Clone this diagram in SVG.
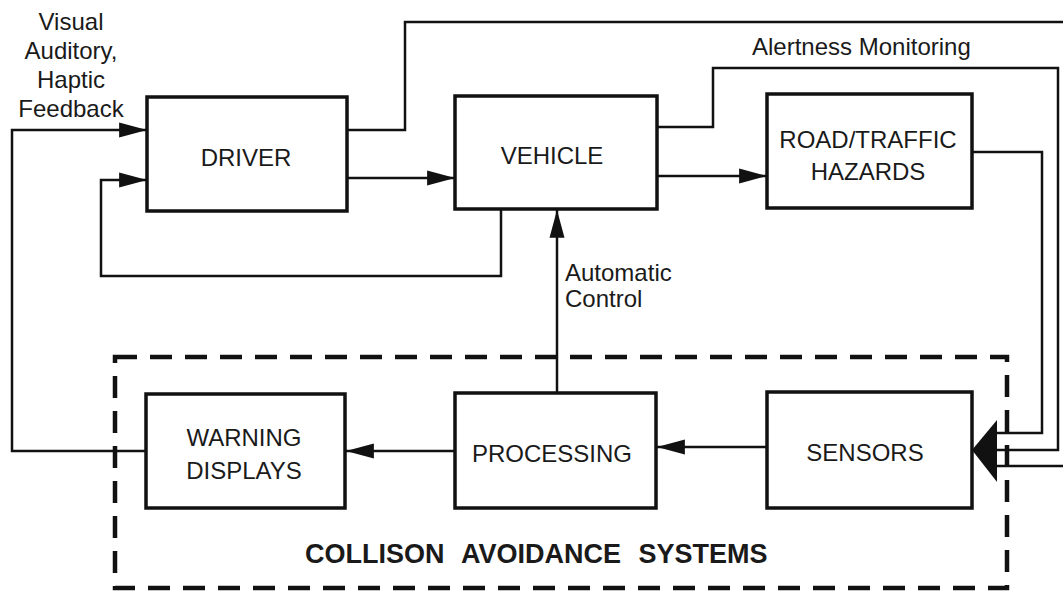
<svg xmlns="http://www.w3.org/2000/svg" width="1063" height="594" viewBox="0 0 1063 594">
<style>
.box{fill:#fff;stroke:#111;stroke-width:3.5}
.ln{fill:none;stroke:#111;stroke-width:2.5}
.t{font-family:"Liberation Sans",Arial,sans-serif;font-size:24px;fill:#1a1a1a;text-anchor:middle}
.lab{font-family:"Liberation Sans",Arial,sans-serif;font-size:24px;fill:#1a1a1a}
.big{font-family:"Liberation Sans",Arial,sans-serif;font-size:27px;font-weight:bold;fill:#1a1a1a;word-spacing:10px}
.dash{fill:none;stroke:#111;stroke-width:4.5;stroke-dasharray:22 13}
</style>
<defs>
<marker id="ah" markerUnits="userSpaceOnUse" markerWidth="30" markerHeight="20" viewBox="-27 -8 28 16" refX="0" refY="0" orient="auto">
<path d="M0,0 L-26,-7 L-26,7 Z" fill="#111"/>
</marker>
</defs>
<rect width="1063" height="594" fill="#fff"/>

<g id="system-boundary">
<rect class="dash" x="115" y="357" width="892" height="231"/>
<text class="big" x="305" y="563">COLLISON AVOIDANCE SYSTEMS</text>
</g>

<g id="connectors">
<path class="ln" d="M146,451 H12 V130 H147" marker-end="url(#ah)"/>
<path class="ln" d="M501,209 V276 H101 V180 H147" marker-end="url(#ah)"/>
<path class="ln" d="M347,178 H455" marker-end="url(#ah)"/>
<path class="ln" d="M657,176 H767" marker-end="url(#ah)"/>
<path class="ln" d="M347,130 H405 V22 H1070 V466 H997"/>
<path class="ln" d="M657,127 H713 V68 H1058 V450 H997"/>
<path class="ln" d="M972,152 H1042 V433 H997"/>
<path d="M972,450 L997,420 L997,482 Z" fill="#111"/>
<path class="ln" d="M767,447 H657" marker-end="url(#ah)"/>
<path class="ln" d="M455,451 H346" marker-end="url(#ah)"/>
<path class="ln" d="M557,393 V210" marker-end="url(#ah)"/>
</g>

<g id="labels">
<text class="t" x="71" y="30">Visual</text>
<text class="t" x="71" y="59">Auditory,</text>
<text class="t" x="71" y="88">Haptic</text>
<text class="t" x="71" y="117">Feedback</text>
<text class="lab" x="752" y="55">Alertness Monitoring</text>
<text class="lab" x="565" y="281">Automatic</text>
<text class="lab" x="565" y="307">Control</text>
</g>

<g id="driver">
<rect class="box" x="147" y="97" width="200" height="114"/>
<text class="t" x="246" y="166">DRIVER</text>
</g>
<g id="vehicle">
<rect class="box" x="455" y="96" width="202" height="113"/>
<text class="t" x="552" y="164">VEHICLE</text>
</g>
<g id="road-traffic-hazards">
<rect class="box" x="767" y="94" width="205" height="114"/>
<text class="t" x="868" y="148">ROAD/TRAFFIC</text>
<text class="t" x="868" y="180">HAZARDS</text>
</g>
<g id="warning-displays">
<rect class="box" x="146" y="394" width="199" height="114"/>
<text class="t" x="244" y="446">WARNING</text>
<text class="t" x="244" y="479">DISPLAYS</text>
</g>
<g id="processing">
<rect class="box" x="455" y="393" width="201" height="115"/>
<text class="t" x="552" y="462">PROCESSING</text>
</g>
<g id="sensors">
<rect class="box" x="767" y="392" width="205" height="116"/>
<text class="t" x="865" y="461">SENSORS</text>
</g>
</svg>
